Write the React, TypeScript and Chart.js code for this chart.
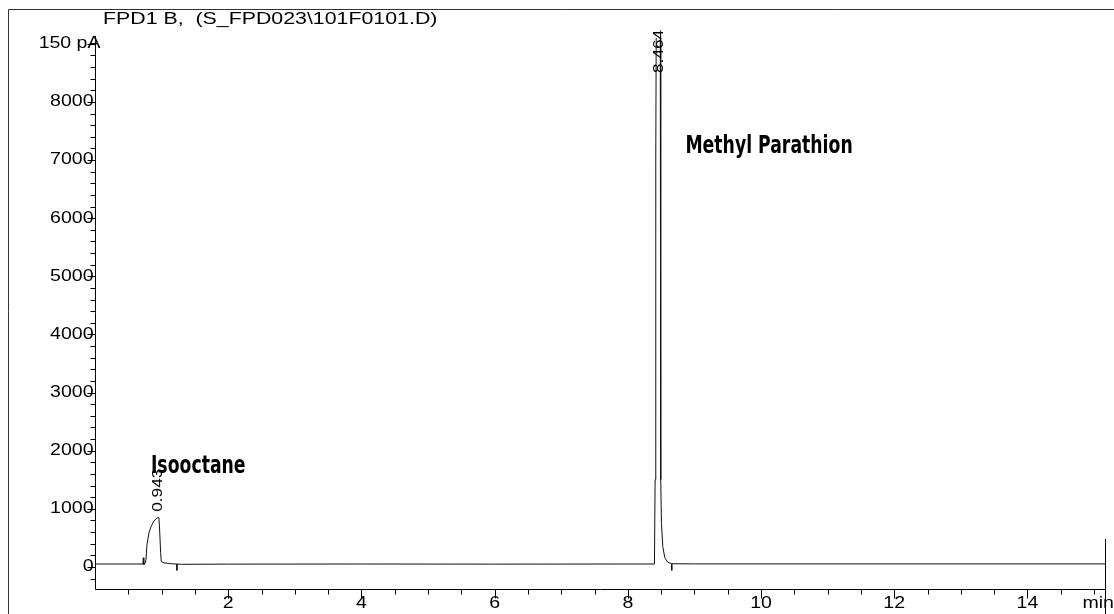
import React, { useEffect, useRef } from "react";
import { Chart, registerables } from "chart.js";

Chart.register(...registerables);

// ---- data ----
const TITLE = "FPD1 B,  (S_FPD023\\101F0101.D)";

const TIME_MIN = [
  0, 0.72, 0.725, 0.73, 0.735, 0.745, 0.765, 0.78, 0.81, 0.84, 0.885, 0.93, 0.96,
  0.972, 0.985, 0.995, 1.035, 1.14, 1.3, 2.0, 4.0, 6.0, 8.0, 8.4, 8.41, 8.42,
  8.435, 8.464, 8.485, 8.492, 8.497, 8.505, 8.525, 8.555, 8.6, 8.66, 9.0, 12.0, 15.2,
];
const SIGNAL = [
  50, 50, 150, 160, 40, 45, 120, 380, 585, 690, 790, 845, 845,
  600, 250, 90, 70, 55, 45, 48, 50, 48, 50, 50, 1500, 7000,
  12000, 14000, 12000, 5000, 1500, 750, 350, 160, 80, 55, 52, 52, 52,
];

// integrator peak-end markers (minutes)
const PEAK_END_MARKS = [1.23, 8.66];

const PEAK_LABELS = ["0.943", "8.464"];
const PEAK_TIMES = [0.943, 8.464];
const PEAK_HEIGHTS = [845, 14000];

const COMPOUND_NAMES = ["Isooctane", "Methyl Parathion"];
const COMPOUND_TIMES = [0.84, 8.865];
const COMPOUND_LEVELS = [1720, 7230];

const Y_TICK_VALUES = [0, 1000, 2000, 3000, 4000, 5000, 6000, 7000, 8000, 9000];
const Y_TICK_LABELS = ["0", "1000", "2000", "3000", "4000", "5000", "6000", "7000", "8000", "150 pA"];
const X_TICK_VALUES = [2, 4, 6, 8, 10, 12, 14];
const X_TICK_LABELS = ["2", "4", "6", "8", "10", "12", "14"];
const X_UNIT = "min";

const SANS = '"Liberation Sans", Arial, sans-serif';
const NARROW = '"Liberation Sans Narrow", "DejaVu Sans Condensed", "Arial Narrow", sans-serif';

function drawText(
  ctx: CanvasRenderingContext2D,
  text: string,
  x: number,
  y: number,
  font: string,
  stretch: number,
  align: CanvasTextAlign,
  rotate = false
) {
  ctx.save();
  ctx.translate(x, y);
  if (rotate) ctx.rotate(-Math.PI / 2);
  ctx.scale(stretch, 1);
  ctx.font = font;
  ctx.fillStyle = "#000";
  ctx.textAlign = align;
  ctx.textBaseline = "middle";
  ctx.fillText(text, 0, 0);
  ctx.restore();
}

const overlay = {
  id: "chromOverlay",
  afterDraw(chart: any) {
    const ctx: CanvasRenderingContext2D = chart.ctx;
    const a = chart.chartArea;
    const xs = chart.scales.x;
    const ys = chart.scales.y;
    const L = Math.round(a.left) + 0.5;
    const B = Math.round(a.bottom) + 0.5;
    const R = Math.round(a.right) + 0.5;

    ctx.save();
    // outer frame
    ctx.strokeStyle = "#333";
    ctx.lineWidth = 1;
    ctx.beginPath();
    ctx.moveTo(8.5, 614);
    ctx.lineTo(8.5, 9.5);
    ctx.lineTo(1114, 9.5);
    ctx.stroke();

    // axes
    ctx.strokeStyle = "#000";
    ctx.beginPath();
    ctx.moveTo(L, a.top - 2);
    ctx.lineTo(L, B);
    ctx.lineTo(R, B);
    ctx.moveTo(R, a.bottom - 50);
    ctx.lineTo(R, 614);
    ctx.stroke();

    // y ticks (minor every 200)
    ctx.beginPath();
    for (let v = -200; v <= 9000; v += 200) {
      const py = Math.round(ys.getPixelForValue(v)) + 0.5;
      const major = v % 1000 === 0;
      ctx.moveTo(L - (major ? 8 : 5), py);
      ctx.lineTo(L, py);
    }
    // x ticks (minor every 0.5)
    for (let t = 0.5; t <= xs.max; t += 0.5) {
      const px = Math.round(xs.getPixelForValue(t)) + 0.5;
      const major = Math.abs(t % 2) < 1e-6;
      ctx.moveTo(px, B);
      ctx.lineTo(px, B + (major ? 9 : 5));
    }
    ctx.stroke();

    // y labels
    Y_TICK_VALUES.forEach((v, i) => {
      const py = ys.getPixelForValue(v);
      const lab = Y_TICK_LABELS[i];
      const xr = lab.indexOf("pA") >= 0 ? L + 5 : L - 2;
      drawText(ctx, lab, xr, py, `16px ${SANS}`, 1.22, "right");
    });
    // x labels
    X_TICK_VALUES.forEach((v, i) => {
      drawText(ctx, X_TICK_LABELS[i], xs.getPixelForValue(v), B + 14, `16px ${SANS}`, 1.22, "center");
    });
    drawText(ctx, X_UNIT, R - 23, B + 14, `16px ${SANS}`, 1.22, "left");

    // title
    drawText(ctx, TITLE, 103, 19.5, `17px ${SANS}`, 1.255, "left");

    // peak retention-time labels (rotated)
    PEAK_LABELS.forEach((lab, i) => {
      const px = xs.getPixelForValue(PEAK_TIMES[i]) + 0.5;
      const peakPx = ys.getPixelForValue(PEAK_HEIGHTS[i]);
      const bottom = Math.max(peakPx - 6, a.top + 35);
      drawText(ctx, lab, px, bottom, `15px ${SANS}`, 1.15, "left", true);
    });

    // compound names
    COMPOUND_NAMES.forEach((name, i) => {
      drawText(
        ctx,
        name,
        xs.getPixelForValue(COMPOUND_TIMES[i]),
        ys.getPixelForValue(COMPOUND_LEVELS[i]),
        `bold 24px ${NARROW}`,
        0.8,
        "left"
      );
    });
    ctx.restore();
  },
};

export default function App() {
  const ref = useRef<HTMLCanvasElement>(null);

  useEffect(() => {
    const signal = TIME_MIN.map((t, i) => ({ x: t, y: SIGNAL[i] }));
    const marks: { x: number; y: number | null }[] = [];
    PEAK_END_MARKS.forEach((t) => {
      marks.push({ x: t, y: 50 });
      marks.push({ x: t, y: -60 });
      marks.push({ x: t, y: null });
    });

    const chart = new Chart(ref.current as HTMLCanvasElement, {
      type: "line",
      data: {
        datasets: [
          {
            data: signal as any,
            borderColor: "#111",
            borderWidth: 1,
            pointRadius: 0,
            tension: 0,
            fill: false,
          },
          {
            data: marks as any,
            borderColor: "#111",
            borderWidth: 1,
            pointRadius: 0,
            spanGaps: false,
            fill: false,
          },
        ],
      },
      options: {
        responsive: false,
        maintainAspectRatio: false,
        devicePixelRatio: 1,
        animation: false,
        layout: { padding: { left: 95, right: 9, top: 38, bottom: 25 } },
        scales: {
          x: { type: "linear", min: 0, max: 15.165, display: false },
          y: { type: "linear", min: -380, max: 9100, display: false },
        },
        plugins: {
          legend: { display: false },
          tooltip: { enabled: false },
          title: { display: false },
        },
      },
      plugins: [overlay],
    });
    return () => chart.destroy();
  }, []);

  return (
    <div
      style={{
        position: "fixed",
        left: 0,
        top: 0,
        width: 1114,
        height: 614,
        background: "#fff",
      }}
    >
      <canvas ref={ref} width={1114} height={614} style={{ width: 1114, height: 614, display: "block" }} />
    </div>
  );
}
